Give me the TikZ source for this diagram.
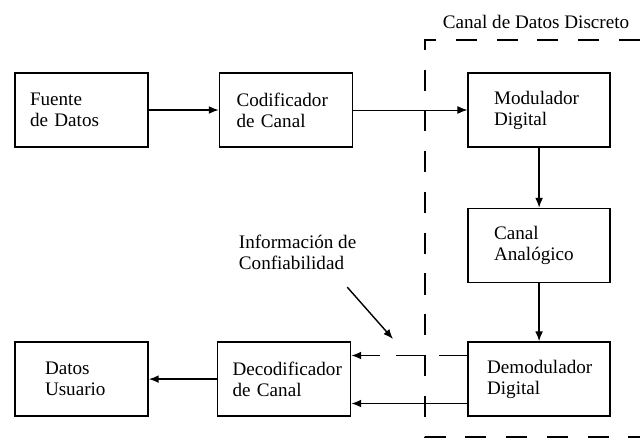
\documentclass[tikz,border=0pt]{standalone}
\usepackage{fontspec}
\setmainfont{Liberation Serif}
\newfontfamily\diagfont{Liberation Serif}
\usepackage{tikz}
\usetikzlibrary{arrows.meta, positioning, calc}

\begin{document}
\begin{tikzpicture}[
    node distance=1.5cm and 1.75cm,
    every node/.style={font=\diagfont\fontsize{13.6pt}{15pt}\selectfont},
    block/.style 2 args={rectangle, draw, line width=1.1pt, align=left, minimum height=1.85cm, text width=#1, inner xsep=#2},
    arrow/.style={-{Latex[length=7pt, width=5.5pt]}, line width=1pt},
    frame/.style={line width=1.1pt, dash pattern=on 15pt off 14pt}
]
\useasboundingbox (0,0) rectangle (16,-11.05);

% Transmisor
\node[block={2.575cm}{0.375cm}] (fuente) at (2.0375,-2.75) {Fuente\\de Datos};
\node[block={2.475cm}{0.425cm}, right=1.75cm of fuente] (codif) {Codificador\\de Canal};

% Canal discreto
\node[block={2.25cm}{0.65cm}, right=2.85cm of codif] (modul) {Modulador\\Digital};
\node[block={2.25cm}{0.65cm}, below=1.5cm of modul] (canal) {Canal\\Anal\'ogico};
\node[block={2.6cm}{0.475cm}, below=1.45cm of canal] (demod) {Demodulador\\Digital};

% Receptor
\node[block={2.575cm}{0.375cm}, left=2.9cm of demod] (decod) {Decodificador\\de Canal};
\node[block={1.825cm}{0.75cm}, left=1.7cm of decod] (usuario) {Datos\\Usuario};

% Etiquetas
\node (discreto) at (13.4,-0.55) {Canal de Datos Discreto};
\node[align=left] (info) at (7.44,-6.32) {Informaci\'on de\\Confiabilidad};
\coordinate (tip) at (9.825,-8.475);

% Marco del canal discreto
\coordinate (ftl) at (10.625,-1.0);
\coordinate (ftr) at (16,-1.0);
\coordinate (fbl) at (10.625,-10.925);
\coordinate (fbr) at (16,-10.925);
\draw[frame] (ftr) -- (ftl) -- (fbl) -- (fbr);

% Conexiones
\draw[arrow] (fuente) -- (codif);
\draw[arrow, line width=0.6pt] (codif.east) -- (modul.west);
\draw[arrow] (modul) -- (canal);
\draw[arrow] (canal) -- (demod);
\draw[arrow, dash pattern=on 20pt off 11pt] ([yshift=0.59cm]demod.west) -- ([yshift=0.59cm]decod.east);
\draw[arrow] ([yshift=-0.61cm]demod.west) -- ([yshift=-0.61cm]decod.east);
\draw[arrow] (decod) -- (usuario);
\draw[arrow] ([shift={(-0.35,-0.3)}]info.south east) -- (tip);

\end{tikzpicture}
\end{document}
